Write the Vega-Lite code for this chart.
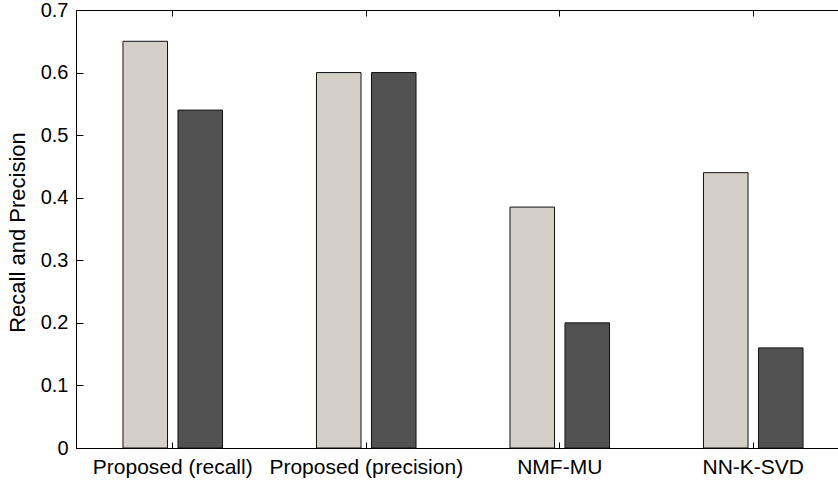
{
  "$schema": "https://vega.github.io/schema/vega-lite/v6.json",
  "width": 774,
  "height": 438,
  "autosize": {"type": "none"},
  "padding": {"left": 76, "top": 10, "right": 0, "bottom": 33},
  "background": "white",
  "config": {
    "view": {"stroke": null},
    "axis": {
      "labelFont": "Liberation Sans",
      "titleFont": "Liberation Sans",
      "labelFontSize": 20,
      "titleFontSize": 19,
      "titleFontWeight": "normal",
      "labelColor": "black",
      "titleColor": "black",
      "domainColor": "black",
      "tickColor": "black",
      "domainWidth": 1,
      "tickWidth": 1,
      "grid": false
    }
  },
  "data": {
    "values": [
      {"method": "Proposed (recall)", "series": "1", "value": 0.65},
      {"method": "Proposed (recall)", "series": "2", "value": 0.54},
      {"method": "Proposed (precision)", "series": "1", "value": 0.60},
      {"method": "Proposed (precision)", "series": "2", "value": 0.60},
      {"method": "NMF-MU", "series": "1", "value": 0.385},
      {"method": "NMF-MU", "series": "2", "value": 0.20},
      {"method": "NN-K-SVD", "series": "1", "value": 0.44},
      {"method": "NN-K-SVD", "series": "2", "value": 0.16}
    ]
  },
  "layer": [
    {
      "mark": {"type": "bar", "stroke": "#111111", "strokeWidth": 1},
      "encoding": {
        "x": {
          "field": "method",
          "type": "nominal",
          "sort": null,
          "scale": {"paddingInner": 0, "paddingOuter": 0},
          "axis": {
            "orient": "bottom",
            "title": null,
            "labelAngle": 0,
            "labelFont": "Liberation Sans",
            "labelFontSize": 21,
            "labelLimit": 0,
            "tickSize": -6,
            "labelPadding": 14
          }
        },
        "xOffset": {
          "field": "series",
          "type": "nominal",
          "scale": {"paddingInner": 0.19, "paddingOuter": 0.854}
        },
        "y": {
          "field": "value",
          "type": "quantitative",
          "scale": {"domain": [0, 0.7], "nice": false, "zero": true},
          "axis": {
            "title": "Recall and Precision",
            "values": [0, 0.1, 0.2, 0.3, 0.4, 0.5, 0.6, 0.7],
            "labelExpr": "datum.value == 0 ? '0' : format(datum.value, '.1f')",
            "labelFont": "Liberation Sans",
            "labelFontSize": 20,
            "titleFont": "Liberation Sans",
            "titleFontSize": 22,
            "tickSize": -7,
            "labelPadding": 15,
            "titleX": -59,
            "titleY": 222,
            "titleAlign": "center",
            "titleBaseline": "middle",
            "titleAngle": 270
          }
        },
        "color": {
          "field": "series",
          "type": "nominal",
          "scale": {"range": ["#d4d0c8", "#525252"]},
          "legend": null
        }
      }
    },
    {
      "mark": {"type": "bar", "opacity": 0},
      "encoding": {
        "x": {
          "field": "method",
          "type": "nominal",
          "sort": null,
          "axis": {
            "orient": "top",
            "title": null,
            "labels": false,
            "tickSize": -6
          }
        },
        "y": {"field": "value", "type": "quantitative"}
      }
    }
  ],
  "resolve": {"axis": {"x": "independent"}}
}
